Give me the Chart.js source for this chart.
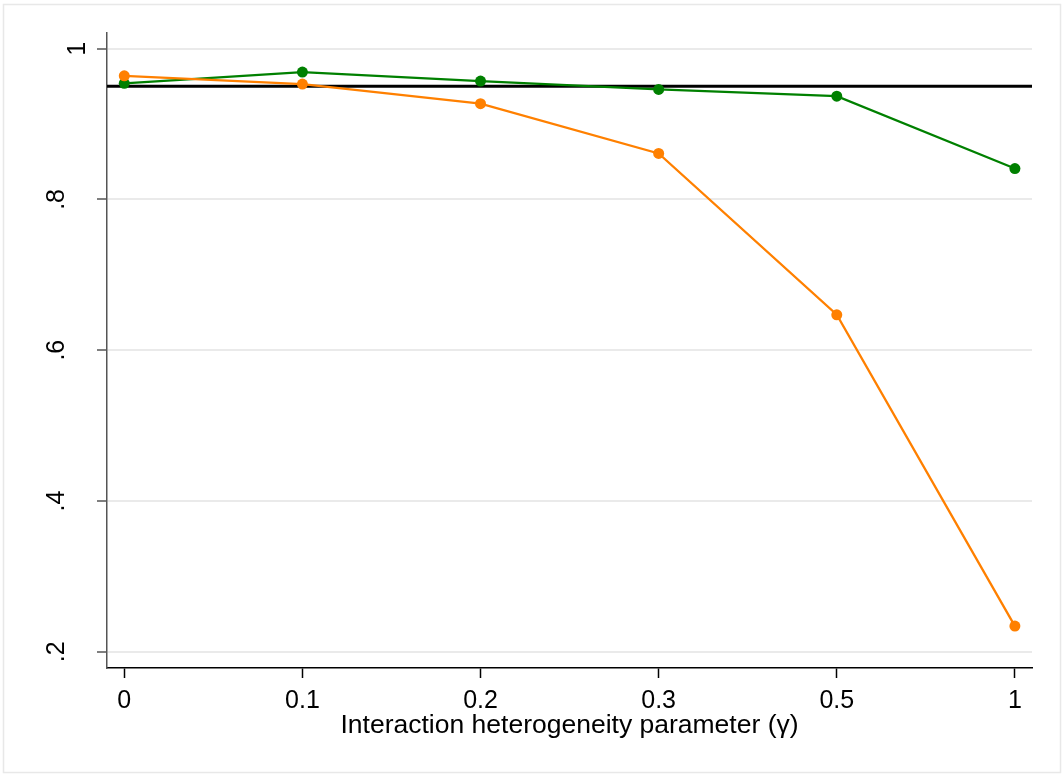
<!DOCTYPE html>
<html>
<head>
<meta charset="utf-8">
<script src="https://cdn.jsdelivr.net/npm/chart.js@4.4.1/dist/chart.umd.min.js"></script>
<style>
  html, body { margin: 0; padding: 0; background: #ffffff; }
  #wrap { width: 1064px; height: 776px; }
</style>
</head>
<body>
<div id="wrap"><canvas id="c" width="1064" height="776"></canvas></div>
<script>
// Coverage by interaction heterogeneity parameter
const gammaLabels   = ['0', '0.1', '0.2', '0.3', '0.5', '1'];
const greenSeries   = [0.954, 0.969, 0.957, 0.946, 0.937, 0.841];
const orangeSeries  = [0.964, 0.953, 0.927, 0.861, 0.647, 0.234];
const yTickValues   = [0.2, 0.4, 0.6, 0.8, 1];
const yTickLabels   = ['.2', '.4', '.6', '.8', '1'];
const referenceLevel = 0.95;
const xTitle = 'Interaction heterogeneity parameter (\u03B3)';

const FONT = "'Liberation Sans', Arial, Helvetica, sans-serif";
const GREEN = '#008000';
const ORANGE = '#ff8000';

const toPoints = arr => arr.map((v, i) => ({ x: i, y: v }));

// Outer graph-region frame and white background
const framePlugin = {
  id: 'frame',
  beforeDraw(chart) {
    const ctx = chart.ctx;
    ctx.save();
    ctx.fillStyle = '#ffffff';
    ctx.fillRect(0, 0, chart.width, chart.height);
    ctx.strokeStyle = '#e8e8e8';
    ctx.lineWidth = 1.5;
    ctx.strokeRect(3.5, 4.5, chart.width - 7, chart.height - 8);
    ctx.restore();
  }
};

// Horizontal reference line at the nominal level
const refLinePlugin = {
  id: 'refLine',
  beforeDatasetsDraw(chart) {
    const { ctx, chartArea, scales } = chart;
    const y = scales.y.getPixelForValue(referenceLevel);
    ctx.save();
    ctx.strokeStyle = '#000000';
    ctx.lineWidth = 3;
    ctx.beginPath();
    ctx.moveTo(chartArea.left, y);
    ctx.lineTo(chartArea.right, y);
    ctx.stroke();
    ctx.restore();
  }
};

// Vertical (rotated) y tick labels and the x axis title
const textPlugin = {
  id: 'texts',
  afterDraw(chart) {
    const { ctx, chartArea, scales } = chart;
    ctx.save();
    ctx.fillStyle = '#000000';
    ctx.font = '25px ' + FONT;
    ctx.textAlign = 'center';
    ctx.textBaseline = 'alphabetic';
    const tickEnd = chartArea.left - 10;
    yTickValues.forEach((v, i) => {
      const label = yTickLabels[i];
      const py = scales.y.getPixelForValue(v);
      // longer labels sit further out from the axis
      const bx = tickEnd - 12 - (label.length - 1) * 21;
      ctx.save();
      ctx.translate(bx, py);
      ctx.rotate(-Math.PI / 2);
      ctx.fillText(label, 0, 0);
      ctx.restore();
    });
    ctx.font = '26.5px ' + FONT;
    ctx.fillText(xTitle, (chartArea.left + chartArea.right) / 2, 733);
    ctx.restore();
  }
};

new Chart(document.getElementById('c'), {
  type: 'line',
  data: {
    datasets: [
      {
        label: 'orange',
        data: toPoints(orangeSeries),
        borderColor: ORANGE,
        backgroundColor: ORANGE,
        borderWidth: 2.3,
        pointRadius: 5.5,
        pointBorderWidth: 0,
        pointBackgroundColor: ORANGE,
        tension: 0,
        fill: false
      },
      {
        label: 'green',
        data: toPoints(greenSeries),
        borderColor: GREEN,
        backgroundColor: GREEN,
        borderWidth: 2.3,
        pointRadius: 5.5,
        pointBorderWidth: 0,
        pointBackgroundColor: GREEN,
        tension: 0,
        fill: false
      }
    ]
  },
  options: {
    responsive: false,
    animation: false,
    devicePixelRatio: 1,
    events: [],
    layout: { padding: { left: 0, right: 32, top: 33, bottom: 0 } },
    plugins: {
      legend: { display: false },
      tooltip: { enabled: false },
      title: { display: false }
    },
    scales: {
      x: {
        type: 'linear',
        position: 'bottom',
        min: -0.097,
        max: 5.096,
        afterBuildTicks: s => { s.ticks = gammaLabels.map((_, i) => ({ value: i })); },
        afterFit: s => { s.height = 108; },
        ticks: {
          color: '#000000',
          font: { family: FONT, size: 25 },
          padding: 8,
          maxRotation: 0,
          autoSkip: false,
          callback: v => gammaLabels[v]
        },
        grid: {
          drawOnChartArea: false,
          drawTicks: true,
          tickLength: 10,
          tickColor: '#000000',
          tickWidth: 1.5
        },
        border: { display: true, color: '#000000', width: 1.5 }
      },
      y: {
        type: 'linear',
        position: 'left',
        min: 0.1784,
        max: 1.0208,
        afterBuildTicks: s => { s.ticks = yTickValues.map(v => ({ value: v })); },
        afterFit: s => { s.width = 107; },
        ticks: { display: false },
        grid: {
          drawOnChartArea: true,
          color: '#eaeaea',
          lineWidth: 2,
          drawTicks: true,
          tickLength: 10,
          tickColor: '#555555',
          tickWidth: 1.5
        },
        border: { display: true, color: '#555555', width: 1.5 }
      }
    }
  },
  plugins: [framePlugin, refLinePlugin, textPlugin]
});
</script>
</body>
</html>
